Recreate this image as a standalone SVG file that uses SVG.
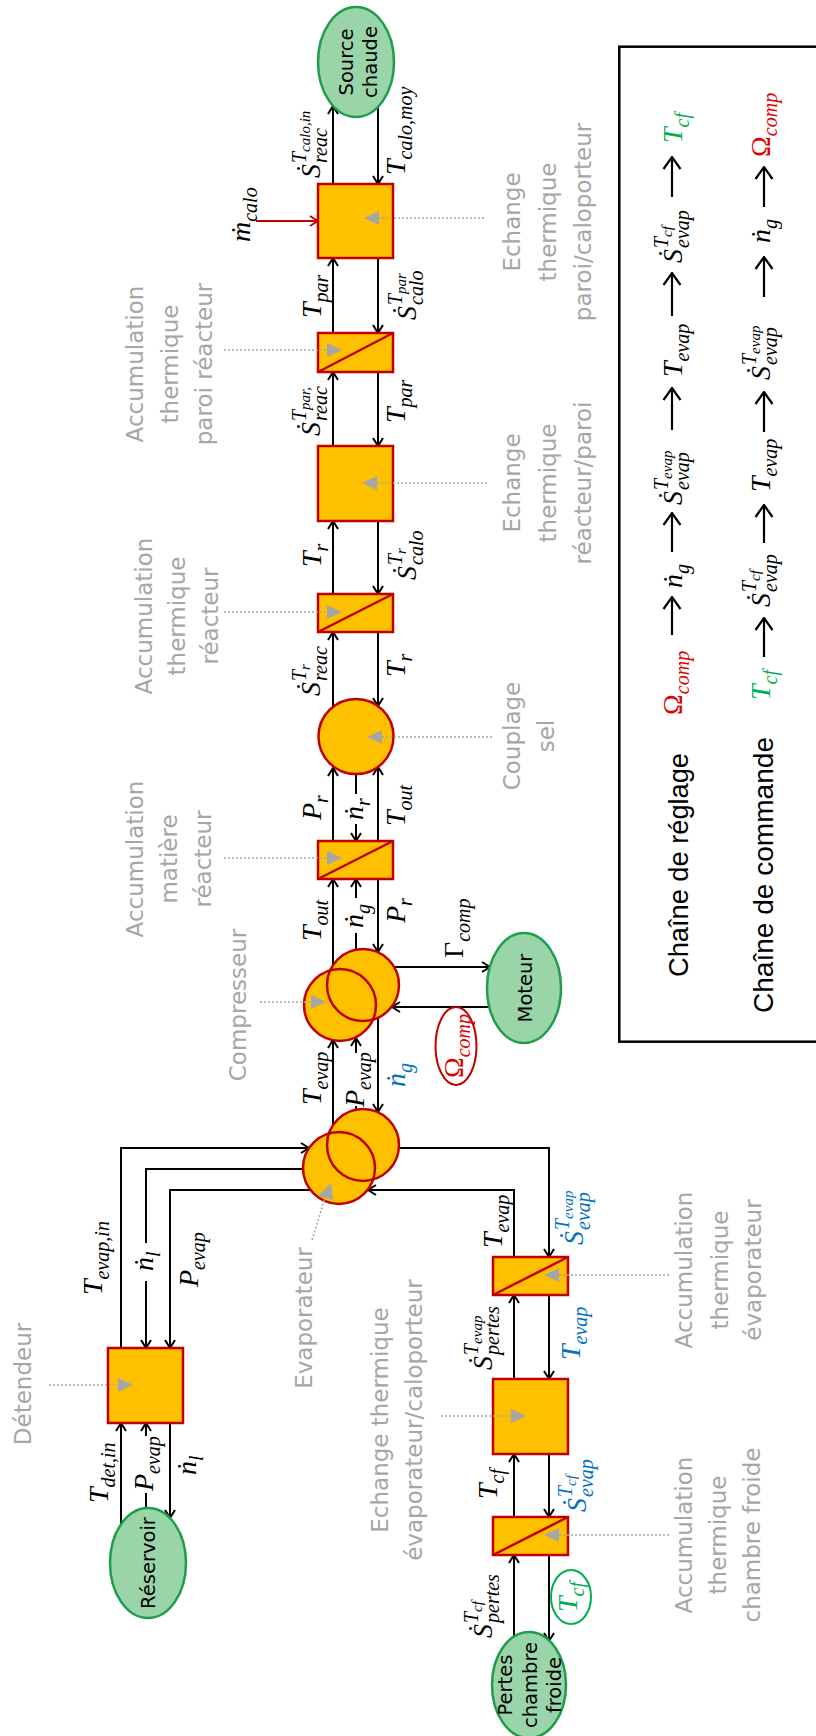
<svg xmlns="http://www.w3.org/2000/svg" width="816" height="1736" viewBox="0 0 816 1736">
<style>
.ln{stroke:#000;stroke-width:2;fill:none}
.lnr{stroke:#C00000;stroke-width:2;fill:none}
.la{stroke:#000;stroke-width:2.2;fill:none}
.box{fill:#FFC000;stroke:#C00000;stroke-width:2.5}
.diag{stroke:#C00000;stroke-width:2.5}
.org{fill:#FFC000;stroke:none}
.orgs{fill:none;stroke:#C00000;stroke-width:2.5}
.grn{fill:#99D5A9;stroke:#1F9D4B;stroke-width:2.5}
.ptr{stroke:#A6A6A6;stroke-width:1.5;stroke-dasharray:2 2;fill:none}
.tri{fill:#A6A6A6}
.gl{font-family:"DejaVu Sans",sans-serif;font-size:23px;fill:#A6A6A6;text-anchor:middle}
.nl{font-family:"DejaVu Sans",sans-serif;font-size:19.5px;fill:#000;text-anchor:middle}
.lg{font-family:"Liberation Sans",sans-serif;font-size:27.5px;fill:#000}
.m{font-family:"Liberation Serif","DejaVu Serif",serif;font-style:italic;font-size:28px;fill:#000}
.s{font-size:20px}
.ss{font-size:15px}
.up{font-style:normal}
.blue{fill:#0070C0}
.green{fill:#00B050}
.red{fill:#E00000}
.mid{text-anchor:middle}
</style>
<defs>
<marker id="ah" viewBox="0 0 10 12" refX="9" refY="6" markerWidth="10" markerHeight="12" markerUnits="userSpaceOnUse" orient="auto"><path d="M1,1 L9,6 L1,11" fill="none" stroke="#000" stroke-width="2"/></marker>
<marker id="ahr" viewBox="0 0 10 12" refX="9" refY="6" markerWidth="10" markerHeight="12" markerUnits="userSpaceOnUse" orient="auto"><path d="M1,1 L9,6 L1,11" fill="none" stroke="#C00000" stroke-width="2"/></marker>
<marker id="ahl" viewBox="0 0 14 20" refX="13" refY="10" markerWidth="14" markerHeight="20" markerUnits="userSpaceOnUse" orient="auto"><path d="M1,1.5 L13,10 L1,18.5" fill="none" stroke="#000" stroke-width="2.2"/></marker>
</defs>
<rect width="816" height="1736" fill="#fff"/>
<g transform="translate(0,1736) rotate(-90)">

<g id="connectors">
<path class="ln" marker-end="url(#ah)" d="M608,333H696"/>
<path class="ln" d="M622,356H630"/>
<path class="ln" marker-end="url(#ah)" d="M683,356H698"/>
<path class="ln" marker-end="url(#ah)" d="M720,378H624"/>
<path class="ln" marker-end="url(#ah)" d="M768,333H857"/>
<path class="ln" d="M784,356H803"/>
<path class="ln" marker-end="url(#ah)" d="M838,356H857"/>
<path class="ln" marker-end="url(#ah)" d="M857,378H784"/>
<path class="ln" marker-end="url(#ah)" d="M895,333H968"/>
<path class="ln" d="M962,356H942"/>
<path class="ln" marker-end="url(#ah)" d="M912,356H895"/>
<path class="ln" marker-end="url(#ah)" d="M895,378H969"/>
<path class="ln" marker-end="url(#ah)" d="M1030,333H1104"/>
<path class="ln" marker-end="url(#ah)" d="M1104,378H1030"/>
<path class="ln" marker-end="url(#ah)" d="M1142,333H1215"/>
<path class="ln" marker-end="url(#ah)" d="M1215,378H1142"/>
<path class="ln" marker-end="url(#ah)" d="M1290,333H1364"/>
<path class="ln" marker-end="url(#ah)" d="M1364,378H1290"/>
<path class="ln" marker-end="url(#ah)" d="M1403,333H1478"/>
<path class="ln" marker-end="url(#ah)" d="M1478,378H1403"/>
<path class="ln" marker-end="url(#ah)" d="M1552,333H1630"/>
<path class="ln" marker-end="url(#ah)" d="M1632,378H1552"/>
<path class="lnr" marker-end="url(#ahr)" d="M1515,256V318"/>
<path class="ln" marker-end="url(#ah)" d="M769,394V490"/>
<path class="ln" marker-end="url(#ah)" d="M729,489V392"/>
<path class="ln" marker-end="url(#ah)" d="M388,121H588V309"/>
<path class="ln" d="M567,310V146H493"/>
<path class="ln" marker-end="url(#ah)" d="M455,146H388"/>
<path class="ln" marker-end="url(#ah)" d="M546,315V170H388"/>
<path class="ln" marker-end="url(#ah)" d="M212,121H313"/>
<path class="ln" d="M226,146H243"/>
<path class="ln" marker-end="url(#ah)" d="M300,146H313"/>
<path class="ln" marker-end="url(#ah)" d="M313,170H218"/>
<path class="ln" marker-end="url(#ah)" d="M479,514H546V368"/>
<path class="ln" marker-end="url(#ah)" d="M588,395V549H479"/>
<path class="ln" marker-end="url(#ah)" d="M357,514H441"/>
<path class="ln" marker-end="url(#ah)" d="M441,549H357"/>
<path class="ln" marker-end="url(#ah)" d="M219,514H282"/>
<path class="ln" marker-end="url(#ah)" d="M282,549H219"/>
<path class="ln" marker-end="url(#ah)" d="M100,514H181"/>
<path class="ln" marker-end="url(#ah)" d="M181,549H95"/>
</g>

<g id="connector-labels">
<text class="m" x="631" y="321">T<tspan class="s" dy="7">evap</tspan></text>
<text class="m" x="629" y="364">P<tspan class="s" dy="7">evap</tspan></text>
<text class="m blue" x="649" y="405">ṅ<tspan class="s" dy="7">g</tspan></text>
<text class="m" x="795" y="321">T<tspan class="s" dy="7">out</tspan></text>
<text class="m" x="808" y="363">ṅ<tspan class="s" dy="7">g</tspan></text>
<text class="m" x="813" y="405">P<tspan class="s" dy="7">r</tspan></text>
<text class="m" x="916" y="321">P<tspan class="s" dy="7">r</tspan></text>
<text class="m" x="916" y="363">ṅ<tspan class="s" dy="7">r</tspan></text>
<text class="m" x="910" y="405">T<tspan class="s" dy="7">out</tspan></text>
<text class="m" x="1040" y="320">Ṡ<tspan class="s" x="1055" y="306">T</tspan><tspan class="ss" dy="4">r</tspan><tspan class="s" x="1055" y="327">reac</tspan></text>
<text class="m" x="1059" y="405">T<tspan class="s" dy="7">r</tspan></text>
<text class="m" x="1169" y="321">T<tspan class="s" dy="7">r</tspan></text>
<text class="m" x="1156" y="416">Ṡ<tspan class="s" x="1171" y="402">T</tspan><tspan class="ss" dy="4">r</tspan><tspan class="s" x="1171" y="423">calo</tspan></text>
<text class="m" x="1300" y="320">Ṡ<tspan class="s" x="1315" y="306">T</tspan><tspan class="ss" dy="4">par,</tspan><tspan class="s" x="1315" y="327">reac</tspan></text>
<text class="m" x="1313" y="405">T<tspan class="s" dy="7">par</tspan></text>
<text class="m" x="1418" y="321">T<tspan class="s" dy="7">par</tspan></text>
<text class="m" x="1416" y="416">Ṡ<tspan class="s" x="1431" y="402">T</tspan><tspan class="ss" dy="4">par</tspan><tspan class="s" x="1431" y="423">calo</tspan></text>
<text class="m" x="1558" y="320">Ṡ<tspan class="s" x="1573" y="306">T</tspan><tspan class="ss" dy="4">calo,in</tspan><tspan class="s" x="1573" y="327">reac</tspan></text>
<text class="m" x="1561" y="405">T<tspan class="s" dy="7">calo,moy</tspan></text>
<text class="m" x="1494" y="250">ṁ<tspan class="s" dy="7">calo</tspan></text>
<text class="m" x="778" y="463"><tspan class="up">Γ</tspan><tspan class="s" dy="7">comp</tspan></text>
<text class="m" x="441" y="102">T<tspan class="s" dy="7">evap,in</tspan></text>
<text class="m" x="465" y="153">ṅ<tspan class="s" dy="7">l</tspan></text>
<text class="m" x="449" y="198">P<tspan class="s" dy="7">evap</tspan></text>
<text class="m" x="233" y="108">T<tspan class="s" dy="7">det,in</tspan></text>
<text class="m" x="245" y="153">P<tspan class="s" dy="7">evap</tspan></text>
<text class="m" x="261" y="196">ṅ<tspan class="s" dy="7">l</tspan></text>
<text class="m" x="488" y="502">T<tspan class="s" dy="7">evap</tspan></text>
<text class="m blue" x="491" y="583">Ṡ<tspan class="s" x="506" y="569">T</tspan><tspan class="ss" dy="4">evap</tspan><tspan class="s" x="506" y="590">evap</tspan></text>
<text class="m" x="366" y="492">Ṡ<tspan class="s" x="381" y="478">T</tspan><tspan class="ss" dy="4">evap</tspan><tspan class="s" x="381" y="499">pertes</tspan></text>
<text class="m blue" x="376" y="580">T<tspan class="s" dy="7">evap</tspan></text>
<text class="m" x="237" y="497">T<tspan class="s" dy="7">cf</tspan></text>
<text class="m blue" x="224" y="586">Ṡ<tspan class="s" x="239" y="572">T</tspan><tspan class="ss" dy="4">cf</tspan><tspan class="s" x="239" y="593">evap</tspan></text>
<text class="m" x="98" y="492">Ṡ<tspan class="s" x="113" y="478">T</tspan><tspan class="ss" dy="4">cf</tspan><tspan class="s" x="113" y="499">pertes</tspan></text>
</g>

<g id="evaporateur">
<circle class="org" cx="568" cy="339" r="36"/>
<circle class="org" cx="591" cy="363" r="36"/>
<circle class="orgs" cx="568" cy="339" r="36"/>
<circle class="orgs" cx="591" cy="363" r="36"/>
<path class="ptr" d="M496,312L538,325"/>
<polygon class="tri" points="553,331 536,333 540,318"/>
<text class="gl" x="418" y="312">Evaporateur</text>
</g>

<g id="compresseur">
<circle class="org" cx="731" cy="340" r="36"/>
<circle class="org" cx="751" cy="363" r="36"/>
<circle class="orgs" cx="731" cy="340" r="36"/>
<circle class="orgs" cx="751" cy="363" r="36"/>
<path class="ptr" d="M734,260V311"/>
<polygon class="tri" points="734,326 727,311 741,311"/>
<text class="gl" x="731" y="246">Compresseur</text>
</g>

<g id="moteur">
<ellipse class="grn" cx="748" cy="524" rx="55" ry="37"/>
<text class="nl" x="748" y="532">Moteur</text>
</g>

<g id="omega-comp">
<ellipse cx="690" cy="456" rx="39" ry="20.5" fill="#fff" stroke="#C00000" stroke-width="2"/>
<text class="m red mid" x="690" y="463"><tspan class="up">Ω</tspan><tspan class="s" dy="7">comp</tspan></text>
</g>

<g id="accumulation-matiere-reacteur">
<rect class="box" x="857" y="318" width="38" height="75"/>
<line class="diag" x1="857" y1="318" x2="895" y2="393"/>
<path class="ptr" d="M878,224V327"/>
<polygon class="tri" points="878,342 871,327 885,327"/>
<text class="gl" x="877" y="143">Accumulation</text>
<text class="gl" x="877" y="177">matière</text>
<text class="gl" x="877" y="211">réacteur</text>
</g>

<g id="couplage-sel">
<circle class="box" cx="999.5" cy="356" r="37.5"/>
<path class="ptr" d="M999,492V382"/>
<polygon class="tri" points="999,367 992,382 1006,382"/>
<text class="gl" x="1000" y="520">Couplage</text>
<text class="gl" x="1000" y="554">sel</text>
</g>

<g id="accumulation-thermique-reacteur">
<rect class="box" x="1104" y="318" width="38" height="75"/>
<line class="diag" x1="1104" y1="318" x2="1142" y2="393"/>
<path class="ptr" d="M1124,224V327"/>
<polygon class="tri" points="1124,342 1117,327 1131,327"/>
<text class="gl" x="1120" y="152">Accumulation</text>
<text class="gl" x="1120" y="185">thermique</text>
<text class="gl" x="1120" y="218">réacteur</text>
</g>

<g id="echange-reacteur-paroi">
<rect class="box" x="1215" y="318" width="75" height="75"/>
<path class="ptr" d="M1253,487V377"/>
<polygon class="tri" points="1253,362 1246,377 1260,377"/>
<text class="gl" x="1253" y="520">Echange</text>
<text class="gl" x="1253" y="556">thermique</text>
<text class="gl" x="1253" y="591">réacteur/paroi</text>
</g>

<g id="accumulation-paroi-reacteur">
<rect class="box" x="1364" y="318" width="39" height="75"/>
<line class="diag" x1="1364" y1="318" x2="1403" y2="393"/>
<path class="ptr" d="M1386,224V327"/>
<polygon class="tri" points="1386,342 1379,327 1393,327"/>
<text class="gl" x="1372" y="143">Accumulation</text>
<text class="gl" x="1372" y="178">thermique</text>
<text class="gl" x="1372" y="212">paroi réacteur</text>
</g>

<g id="echange-paroi-caloporteur">
<rect class="box" x="1478" y="318" width="74" height="75"/>
<path class="ptr" d="M1518,484V379"/>
<polygon class="tri" points="1518,364 1511,379 1525,379"/>
<text class="gl" x="1514" y="520">Echange</text>
<text class="gl" x="1514" y="556">thermique</text>
<text class="gl" x="1514" y="591">paroi/caloporteur</text>
</g>

<g id="source-chaude">
<ellipse class="grn" cx="1674" cy="356" rx="55" ry="38"/>
<text class="nl" x="1674" y="353">Source</text>
<text class="nl" x="1674" y="377">chaude</text>
</g>

<g id="detendeur">
<rect class="box" x="313" y="108" width="75" height="75"/>
<path class="ptr" d="M351,49V118"/>
<polygon class="tri" points="351,133 344,118 358,118"/>
<text class="gl" x="352" y="31">Détendeur</text>
</g>

<g id="reservoir">
<ellipse class="grn" cx="173" cy="148" rx="55" ry="38"/>
<text class="nl" x="173" y="155">Réservoir</text>
</g>

<g id="accumulation-thermique-evaporateur">
<rect class="box" x="441" y="493" width="38" height="75"/>
<line class="diag" x1="441" y1="493" x2="479" y2="568"/>
<path class="ptr" d="M461,669V559"/>
<polygon class="tri" points="461,544 454,559 468,559"/>
<text class="gl" x="466" y="692">Accumulation</text>
<text class="gl" x="466" y="728">thermique</text>
<text class="gl" x="466" y="761">évaporateur</text>
</g>

<g id="echange-evaporateur-caloporteur">
<rect class="box" x="282" y="493" width="75" height="75"/>
<path class="ptr" d="M320,441V511"/>
<polygon class="tri" points="320,526 313,511 327,511"/>
<text class="gl" x="316" y="388">Echange thermique</text>
<text class="gl" x="316" y="422">évaporateur/caloporteur</text>
</g>

<g id="accumulation-chambre-froide">
<rect class="box" x="181" y="493" width="38" height="75"/>
<line class="diag" x1="181" y1="493" x2="219" y2="568"/>
<path class="ptr" d="M201,669V559"/>
<polygon class="tri" points="201,544 194,559 208,559"/>
<text class="gl" x="201" y="692">Accumulation</text>
<text class="gl" x="201" y="726">thermique</text>
<text class="gl" x="201" y="760">chambre froide</text>
</g>

<g id="pertes-chambre-froide">
<ellipse class="grn" cx="51" cy="529" rx="53" ry="37"/>
<text class="nl" x="51" y="512">Pertes</text>
<text class="nl" x="51" y="537">chambre</text>
<text class="nl" x="51" y="561">froide</text>
</g>

<g id="t-cf-consigne">
<ellipse cx="139" cy="571" rx="27" ry="20" fill="#fff" stroke="#00B050" stroke-width="2"/>
<text class="m green mid" x="139" y="577">T<tspan class="s" dy="7">cf</tspan></text>
</g>

<g id="legende">
<rect x="694.3" y="619.3" width="995" height="300" fill="none" stroke="#000" stroke-width="2.5"/>
<text class="lg" x="759" y="688" textLength="224" lengthAdjust="spacingAndGlyphs">Chaîne de réglage</text>
<text class="lg" x="723" y="773" textLength="276" lengthAdjust="spacingAndGlyphs">Chaîne de commande</text>
<text class="m red" x="1021" y="682"><tspan class="up">Ω</tspan><tspan class="s" dy="7">comp</tspan></text>
<path class="la" marker-end="url(#ahl)" d="M1101,672H1139"/>
<text class="m" x="1148" y="682">ṅ<tspan class="s" dy="7">g</tspan></text>
<path class="la" marker-end="url(#ahl)" d="M1184,672H1223"/>
<text class="m" x="1231" y="682">Ṡ<tspan class="s" x="1246" y="668">T</tspan><tspan class="ss" dy="4">evap</tspan><tspan class="s" x="1246" y="689">evap</tspan></text>
<path class="la" marker-end="url(#ahl)" d="M1306,672H1348"/>
<text class="m" x="1359" y="682">T<tspan class="s" dy="7">evap</tspan></text>
<path class="la" marker-end="url(#ahl)" d="M1420,672H1463"/>
<text class="m" x="1473" y="682">Ṡ<tspan class="s" x="1488" y="668">T</tspan><tspan class="ss" dy="4">cf</tspan><tspan class="s" x="1488" y="689">evap</tspan></text>
<path class="la" marker-end="url(#ahl)" d="M1539,672H1579"/>
<text class="m green" x="1593" y="682">T<tspan class="s" dy="7">cf</tspan></text>

<text class="m green" x="1036" y="770">T<tspan class="s" dy="7">cf</tspan></text>
<path class="la" marker-end="url(#ahl)" d="M1079,764H1118"/>
<text class="m" x="1129" y="770">Ṡ<tspan class="s" x="1144" y="756">T</tspan><tspan class="ss" dy="4">cf</tspan><tspan class="s" x="1144" y="777">evap</tspan></text>
<path class="la" marker-end="url(#ahl)" d="M1193,764H1231"/>
<text class="m" x="1244" y="770">T<tspan class="s" dy="7">evap</tspan></text>
<path class="la" marker-end="url(#ahl)" d="M1304,764H1344"/>
<text class="m" x="1356" y="770">Ṡ<tspan class="s" x="1371" y="756">T</tspan><tspan class="ss" dy="4">evap</tspan><tspan class="s" x="1371" y="777">evap</tspan></text>
<path class="la" marker-end="url(#ahl)" d="M1439,764H1479"/>
<text class="m" x="1493" y="770">ṅ<tspan class="s" dy="7">g</tspan></text>
<path class="la" marker-end="url(#ahl)" d="M1529,764H1569"/>
<text class="m red" x="1579" y="770"><tspan class="up">Ω</tspan><tspan class="s" dy="7">comp</tspan></text>
</g>

</g>
</svg>
